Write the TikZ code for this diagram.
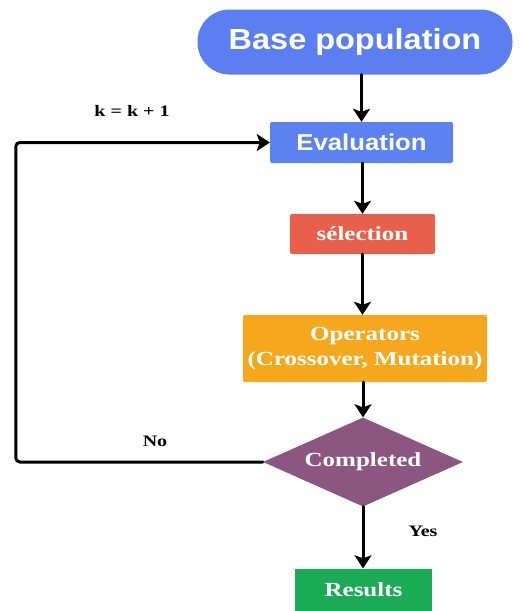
\documentclass[tikz,border=0pt]{standalone}
\usepackage{fontspec}
\newfontfamily\sansbf[FakeStretch=1.12]{Liberation Sans}
\newfontfamily\serifbf[FakeStretch=1.25]{Liberation Serif}
\usetikzlibrary{shapes.geometric,arrows.meta}
\definecolor{popblue}{HTML}{5B7FF0}
\definecolor{evalblue}{HTML}{5B82F0}
\definecolor{selred}{HTML}{E8604C}
\definecolor{opsorange}{HTML}{F5A81E}
\definecolor{compurple}{HTML}{8B5680}
\definecolor{resgreen}{HTML}{1BAA55}
\begin{document}
\begin{tikzpicture}[x=1pt,y=-1pt,>={Stealth[length=13pt,width=17pt,inset=3pt]}, line join=round, line cap=round,
		box/.style={rectangle, rounded corners=2pt, text=white, inner sep=0pt, align=center,
			font=\serifbf\bfseries\fontsize{20}{25}\selectfont},
		link/.style={->, line width=3pt},
		lbl/.style={font=\serifbf\bfseries\fontsize{16}{19}\selectfont}]
	\useasboundingbox (0,0) rectangle (523,611);
	% blocks
	\node[box, fill=popblue, rounded corners=32pt, minimum width=315pt, minimum height=65pt,
		font=\sansbf\bfseries\fontsize{29}{34}\selectfont] (base) at (355,42) {Base population};
	\node[box, fill=evalblue, minimum width=183pt, minimum height=41pt,
		font=\sansbf\bfseries\fontsize{23}{27}\selectfont] (eval) at (361.5,142.5) {Evaluation};
	\node[box, fill=selred, minimum width=145pt, minimum height=40pt] (sel) at (362.5,234) {sélection};
	\node[box, fill=opsorange, minimum width=244pt, minimum height=67pt] (ops) at (365,348.5) {Operators\\(Crossover, Mutation)};
	\node[box, diamond, rounded corners=0pt, aspect=2.27, fill=compurple, minimum width=200pt, minimum height=89pt] (comp) at (363,462) {Completed};
	\node[box, fill=resgreen, rounded corners=0pt, minimum width=137pt, minimum height=43pt] (res) at (363.5,590) {Results};
	% links
	\draw[link] (base.south -| eval.north) -- (eval.north);
	\draw[link] (eval.south -| sel.north) -- (sel.north);
	\draw[link] (sel.south) -- (sel.south |- ops.north);
	\draw[link] (ops.south -| comp.north) -- (comp.north);
	\draw[link] (comp.south) -- (comp.south |- res.north);
	\draw[link, rounded corners=4pt] (comp.west) -- ++(-247,0) |- (eval.west);
	% labels
	\node[lbl] (inc) at (132,111) {k = k + 1};
	\node[lbl] (no) at (155,441) {No};
	\node[lbl] (yes) at (423,531) {Yes};
\end{tikzpicture}
\end{document}
